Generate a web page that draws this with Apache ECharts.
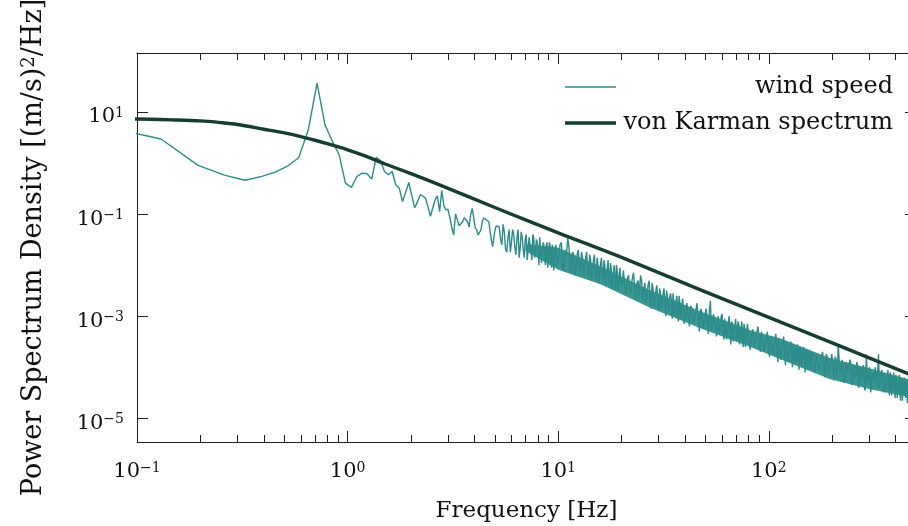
<!DOCTYPE html>
<html><head><meta charset="utf-8">
<script src="https://cdn.jsdelivr.net/npm/echarts@6/dist/echarts.min.js"></script>
<style>html,body{margin:0;padding:0;background:#fff}#c{width:908px;height:526px}</style>
</head><body><div id="c"></div>
<script>
// ---------- data ----------
const windFreqLow = [0.065,0.130,0.195,0.260,0.326,0.391,0.456,0.521,0.586,0.651,0.716,0.781,0.846,0.911,0.977,1.042,1.107,1.172,1.237,1.302,1.367,1.432,1.497,1.562,1.628,1.693,1.758,1.823,1.888,1.953,2.018,2.083,2.148,2.213,2.279,2.344,2.409,2.474,2.539,2.604,2.669,2.734,2.799,2.865,2.930,2.995,3.060,3.125,3.190,3.255,3.320,3.386,3.451,3.516,3.581,3.646,3.711,3.776,3.841,3.906,3.971,4.036,4.102,4.167,4.232,4.297,4.362,4.427,4.492,4.557,4.622,4.687,4.753,4.818,4.883,4.948,5.013,5.078,5.143];
const windPsdLow = [5.6,2.96,0.90,0.58,0.46,0.55,0.675,0.885,1.27,4.5,37,5.6,2.7,1.46,0.405,0.333,0.546,0.637,0.617,0.485,1.30,1.12,0.684,0.59,0.684,0.376,0.324,0.177,0.27,0.417,0.23,0.133,0.174,0.24,0.224,0.206,0.139,0.0906,0.133,0.19,0.229,0.112,0.29,0.146,0.121,0.125,0.085,0.054,0.039,0.101,0.077,0.059,0.056,0.071,0.085,0.093,0.071,0.056,0.098,0.13,0.085,0.054,0.049,0.039,0.036,0.049,0.071,0.085,0.089,0.077,0.081,0.071,0.045,0.031,0.023,0.035,0.049,0.059,0.062];

const windFreqHigh = [
 5.25,5.4,5.55,5.7,5.85,6,6.15,6.3,6.45,6.6,6.75,6.9,7.05,7.2,7.35,7.5,7.65,7.8,7.95,8.1,8.25,8.4,8.55,8.7,8.85,9,9.15,9.3,9.45,9.6,9.75,9.9,
 10.2,10.5,10.8,11.1,11.4,11.7,12,12.3,12.6,12.9,13.2,13.5,13.8,14.1,14.4,14.7,15,15.3,15.6,15.9,16.2,16.5,16.8,17.1,17.4,17.7,18,18.3,18.6,18.9,19.2,19.5,19.8,
 20.4,21,21.6,22.2,22.8,23.4,24,24.6,25.2,25.8,26.4,27,27.6,28.2,28.8,29.4,30,30.6,31.2,31.8,32.4,33,33.6,34.2,34.8,35.4,36,36.6,37.2,37.8,38.4,39,39.6,
 40.8,42,43.2,44.4,45.6,46.8,48,49.2,50.4,51.6,52.8,54,55.2,56.4,57.6,58.8,60,61.2,62.4,63.6,64.8,66,67.2,68.4,69.6,70.8,72,73.2,74.4,75.6,76.8,78,79.2,
 81.6,84,86.4,88.8,91.2,93.6,96,98.4,100.8,103.2,105.6,108,110.4,112.8,115.2,117.6,120,122.4,124.8,127.2,129.6,132,134.4,136.8,139.2,141.6,144,146.4,148.8,151.2,153.6,156,158.4,
 160.8,165.6,170.4,175.2,180,184.8,189.6,194.4,199.2,204,208.8,213.6,218.4,223.2,228,232.8,237.6,242.4,247.2,252,256.8,261.6,266.4,271.2,276,280.8,285.6,290.4,295.2,300,304.8,309.6,314.4,
 320,326,332,338,344,350,356,362,368,374,380,386,392,398,404,410,416,422,428,434,440,446,452,458,464,470,476,482,488,494,500];
const windPsdHigh = [
 5.6e-2,2.5e-2,4.5e-2,1.8e-2,5.0e-2,2.8e-2,4.0e-2,1.6e-2,5.0e-2,2.2e-2,3.5e-2,1.4e-2,4.0e-2,2.0e-2,3.2e-2,1.26e-2,3.5e-2,1.8e-2,2.8e-2,1.0e-2,3.2e-2,1.6e-2,2.5e-2,1.0e-2,2.8e-2,1.4e-2,2.5e-2,8.9e-3,2.2e-2,1.26e-2,2.5e-2,1.0e-2,
 2.5e-2,8.9e-3,2.0e-2,3.5e-2,7.9e-3,1.8e-2,6.3e-3,1.6e-2,1.0e-2,1.8e-2,5.6e-3,1.4e-2,7.9e-3,1.6e-2,5.0e-3,1.26e-2,7.1e-3,1.4e-2,4.5e-3,1.1e-2,6.3e-3,1.26e-2,4.0e-3,8.9e-3,5.6e-3,1.1e-2,3.5e-3,7.9e-3,5.0e-3,1.0e-2,3.2e-3,7.1e-3,4.5e-3,
 7.9e-3,2.8e-3,6.3e-3,3.5e-3,7.1e-3,2.2e-3,5.0e-3,6.3e-3,2.0e-3,4.5e-3,2.5e-3,5.0e-3,1.4e-3,3.5e-3,2.0e-3,4.0e-3,1.26e-3,2.8e-3,1.8e-3,3.5e-3,1.0e-3,2.5e-3,1.4e-3,2.8e-3,8.9e-4,2.0e-3,1.26e-3,2.5e-3,7.9e-4,1.8e-3,1.1e-3,2.2e-3,7.1e-4,
 1.8e-3,6.3e-4,1.4e-3,8.9e-4,1.8e-3,5.0e-4,1.26e-3,7.1e-4,1.4e-3,4.5e-4,2.0e-3,6.3e-4,1.1e-3,4.0e-4,1.0e-3,5.6e-4,1.1e-3,3.5e-4,8.9e-4,5.0e-4,1.0e-3,2.8e-4,7.1e-4,4.5e-4,8.9e-4,3.2e-4,7.1e-4,4.0e-4,7.9e-4,2.5e-4,6.3e-4,3.5e-4,7.1e-4,
 2.2e-4,5.6e-4,3.2e-4,6.3e-4,2.0e-4,5.0e-4,2.8e-4,5.0e-4,1.6e-4,4.0e-4,2.5e-4,4.5e-4,1.26e-4,3.5e-4,2.0e-4,4.0e-4,1.1e-4,2.8e-4,1.8e-4,3.2e-4,1.0e-4,2.5e-4,1.4e-4,2.8e-4,8.9e-5,2.2e-4,1.26e-4,2.5e-4,7.9e-5,2.0e-4,1.1e-4,2.2e-4,8.9e-5,
 2.0e-4,7.9e-5,1.8e-4,1.1e-4,2.0e-4,6.3e-5,1.6e-4,8.9e-5,1.8e-4,5.6e-5,1.4e-4,2.8e-4,7.9e-5,1.4e-4,5.0e-5,1.26e-4,7.9e-5,1.4e-4,4.5e-5,1.1e-4,6.3e-5,1.26e-4,4.0e-5,1.0e-4,5.6e-5,1.1e-4,3.5e-5,1.8e-4,5.0e-5,1.0e-4,3.2e-5,7.9e-5,5.0e-5,
 1.0e-4,4.5e-5,1.8e-4,5.0e-5,8.9e-5,3.2e-5,7.9e-5,4.5e-5,8.9e-5,2.8e-5,7.1e-5,4.0e-5,7.9e-5,2.5e-5,6.3e-5,3.5e-5,7.1e-5,2.2e-5,5.6e-5,3.2e-5,6.3e-5,2.5e-5,5.0e-5,2.8e-5,6.3e-5,2.2e-5,5.0e-5,3.2e-5,5.6e-5,2.5e-5,4.5e-5];

// samples lying between the ones above
const windFreqMid = [
 5.325,5.475,5.625,5.775,5.925,6.075,6.225,6.375,6.525,6.675,6.825,6.975,7.125,7.275,7.425,7.575,7.725,7.875,8.025,8.175,8.325,8.475,8.625,8.775,8.925,9.075,9.225,9.375,9.525,9.675,9.825,
 10.05,10.35,10.65,10.95,11.25,11.55,11.85,12.15,12.45,12.75,13.05,13.35,13.65,13.95,14.25,14.55,14.85,15.15,15.45,15.75,16.05,16.35,16.65,16.95,17.25,17.55,17.85,18.15,18.45,18.75,19.05,19.35,19.65,20.1,
 20.7,21.3,21.9,22.5,23.1,23.7,24.3,24.9,25.5,26.1,26.7,27.3,27.9,28.5,29.1,29.7,30.3,30.9,31.5,32.1,32.7,33.3,33.9,34.5,35.1,35.7,36.3,36.9,37.5,38.1,38.7,39.3,40.2,
 41.4,42.6,43.8,45,46.2,47.4,48.6,49.8,51,52.2,53.4,54.6,55.8,57,58.2,59.4,60.6,61.8,63,64.2,65.4,66.6,67.8,69,70.2,71.4,72.6,73.8,75,76.2,77.4,78.6,80.4,
 82.8,85.2,87.6,90,92.4,94.8,97.2,99.6,102,104.4,106.8,109.2,111.6,114,116.4,118.8,121.2,123.6,126,128.4,130.8,133.2,135.6,138,140.4,142.8,145.2,147.6,150,152.4,154.8,157.2,159.6,
 163.2,168,172.8,177.6,182.4,187.2,192,196.8,201.6,206.4,211.2,216,220.8,225.6,230.4,235.2,240,244.8,249.6,254.4,259.2,264,268.8,273.6,278.4,283.2,288,292.8,297.6,302.4,307.2,312,317.2,
 323,329,335,341,347,353,359,365,371,377,383,389,395,401,407,413,419,425,431,437,443,449,455,461,467,473,479,485,491,497];
const windPsdMid = [
 3.2e-2,6.3e-2,2.0e-2,3.5e-2,1.8e-2,5.0e-2,2.2e-2,3.5e-2,1.4e-2,4.5e-2,2.0e-2,3.2e-2,1.26e-2,3.5e-2,1.8e-2,4.0e-2,1.4e-2,3.2e-2,2.0e-2,3.5e-2,1.1e-2,2.8e-2,1.4e-2,2.5e-2,8.9e-3,2.8e-2,1.4e-2,2.5e-2,7.9e-3,2.2e-2,1.4e-2,
 1.4e-2,2.8e-2,7.9e-3,1.6e-2,2.2e-2,7.1e-3,1.6e-2,8.9e-3,2.0e-2,6.3e-3,1.4e-2,8.9e-3,1.8e-2,5.6e-3,1.26e-2,7.9e-3,1.6e-2,5.0e-3,1.0e-2,7.1e-3,1.4e-2,5.0e-3,1.0e-2,6.3e-3,1.26e-2,4.0e-3,8.9e-3,5.0e-3,1.0e-2,3.5e-3,7.9e-3,4.5e-3,8.9e-3,4.0e-3,
 4.0e-3,5.6e-3,2.8e-3,5.6e-3,3.2e-3,4.5e-3,2.5e-3,5.0e-3,3.2e-3,1.8e-3,4.0e-3,2.5e-3,4.5e-3,1.6e-3,3.2e-3,2.2e-3,3.5e-3,1.4e-3,2.8e-3,2.0e-3,3.2e-3,1.26e-3,2.5e-3,1.8e-3,2.8e-3,1.0e-3,2.0e-3,1.4e-3,2.5e-3,8.9e-4,1.8e-3,1.26e-3,8.9e-4,
 1.1e-3,1.6e-3,7.1e-4,1.26e-3,8.9e-4,1.4e-3,5.6e-4,1.1e-3,7.9e-4,1.26e-3,5.0e-4,1.1e-3,6.3e-4,8.9e-4,4.5e-4,1.0e-3,6.3e-4,8.9e-4,3.5e-4,7.1e-4,5.0e-4,7.9e-4,3.2e-4,6.3e-4,4.5e-4,7.9e-4,2.8e-4,5.6e-4,4.0e-4,7.1e-4,2.5e-4,5.0e-4,3.5e-4,
 4.0e-4,2.5e-4,4.5e-4,3.2e-4,5.0e-4,2.0e-4,3.5e-4,2.5e-4,4.0e-4,1.8e-4,3.2e-4,2.2e-4,3.5e-4,1.4e-4,2.8e-4,2.0e-4,3.2e-4,1.26e-4,2.5e-4,1.8e-4,2.8e-4,1.1e-4,2.2e-4,1.6e-4,2.5e-4,1.0e-4,2.0e-4,1.4e-4,2.2e-4,8.9e-5,1.8e-4,1.26e-4,1.8e-4,
 1.26e-4,1.8e-4,8.9e-5,1.6e-4,1.1e-4,1.8e-4,7.1e-5,1.4e-4,1.0e-4,1.6e-4,6.3e-5,1.26e-4,8.9e-5,1.4e-4,5.6e-5,1.1e-4,7.9e-5,1.26e-4,5.0e-5,1.0e-4,7.1e-5,1.1e-4,4.5e-5,8.9e-5,6.3e-5,1.0e-4,4.0e-5,7.9e-5,5.6e-5,8.9e-5,3.5e-5,7.1e-5,5.0e-5,
 5.6e-5,8.9e-5,4.0e-5,7.1e-5,5.0e-5,7.9e-5,3.2e-5,6.3e-5,4.5e-5,7.9e-5,2.8e-5,5.6e-5,4.0e-5,7.1e-5,2.5e-5,5.0e-5,3.5e-5,6.3e-5,2.2e-5,5.0e-5,3.5e-5,5.6e-5,2.0e-5,4.5e-5,3.2e-5,5.6e-5,2.2e-5,4.0e-5,2.8e-5,5.0e-5];

// the densely over-plotted core of the wind-speed spectrum (where the trace fills solid)
const coreFreq = [7, 10, 16, 27, 47, 82, 113, 196, 303, 445, 500];
const coreLow  = [1.9e-2, 8.1e-3, 4.2e-3, 1.5e-3, 5.9e-4, 2.5e-4, 1.45e-4, 5.8e-5, 3.7e-5, 2.7e-5, 2.5e-5];
const coreHigh = [2.6e-2, 2.2e-2, 9.3e-3, 3.3e-3, 1.25e-3, 5.3e-4, 3.7e-4, 1.5e-4, 9.5e-5, 6.0e-5, 5.5e-5];

const karmanFreq = [0.05,0.1,0.15,0.2,0.25,0.3,0.4,0.5,0.6,0.7,0.8,1.0,1.2,1.5,2,3,5,7,10,20,50,100,200,500];
const karmanPsd  = [7.4,7.3,7.0,6.7,6.2,5.7,4.6,3.9,3.3,2.8,2.4,1.82,1.4,0.97,0.62,0.32,0.135,0.077,0.043,0.0142,0.0030,9.5e-4,3.0e-4,6.5e-5];

const seriesNames = ['wind speed', 'von Karman spectrum'];
const xMajorTicks = [0.1, 1, 10, 100];
const xMinorTicks = [0.2,0.3,0.4,0.5,0.6,0.7,0.8,0.9,2,3,4,5,6,7,8,9,20,30,40,50,60,70,80,90,200,300,400,500];
const yMajorTicks = [1e-5, 1e-3, 1e-1, 10];
const xRange = [0.1, 500];
const yRange = [3.43e-6, 143.5];
const xTitle = 'Frequency [Hz]';
const yTitle = 'Power Spectrum Density [(m/s){sup|2}/Hz]';

// ---------- chart ----------
const FONT = 'DejaVu Serif';
const TXT = '#111';
const AX = '#1e1e1e';
const TEAL = '#2b8c8a';
const CORE = '#3a9593';
const DARK = '#153e31';
const lg = Math.log10;

const pairs = (fs, vs) => fs.map((f, i) => [f, vs[i]]);
const windData = pairs(windFreqLow, windPsdLow)
  .concat(pairs(windFreqHigh, windPsdHigh))
  .concat(pairs(windFreqMid, windPsdMid))
  .sort((a, b) => a[0] - b[0]);

const powLabel = v => {
  const e = Math.round(v);
  return '10{sup|' + (e < 0 ? '\u2212' + (-e) : String(e)) + '}';
};
const supRich = { sup: { fontFamily: FONT, fontSize: 14, color: TXT, verticalAlign: 'top', lineHeight: 14 } };
const axLine = { show: true, onZero: false, lineStyle: { color: AX, width: 1 } };
const noLine = { show: false, onZero: false };

function tickAxis(dim, position, ticks, len, withLabels, line, extra) {
  const r = dim === 'x' ? xRange : yRange;
  const ax = {
    type: 'value', position: position,
    min: lg(r[0]), max: lg(r[1]),
    axisLine: line,
    axisTick: { show: true, inside: true, length: len, customValues: ticks.map(lg), lineStyle: { color: AX, width: 1 } },
    axisLabel: withLabels ? {
      show: true, customValues: ticks.map(lg), formatter: powLabel,
      margin: dim === 'x' ? 19 : 13, padding: dim === 'x' ? 0 : [10, 0, 0, 0],
      fontFamily: FONT, fontSize: 21, color: TXT, rich: supRich
    } : { show: false },
    splitLine: { show: false }, minorTick: { show: false }, axisPointer: { show: false }, silent: true
  };
  return Object.assign(ax, extra || {});
}

function legendFor(name, top, lineH) {
  return {
    data: [{ name: name, icon: 'rect' }], left: 565, top: top, padding: 0,
    itemWidth: 51, itemHeight: lineH, selectedMode: false,
    formatter: n => '{r|' + n + '}',
    textStyle: { fontFamily: FONT, fontSize: 24, color: TXT,
      rich: { r: { fontFamily: FONT, fontSize: 24, color: TXT, width: 272, align: 'right' } } }
  };
}

const chart = echarts.init(document.getElementById('c'), null, { renderer: 'canvas' });
chart.setOption({
  animation: false,
  backgroundColor: '#fff',
  grid: { left: 137, top: 53, right: -8, bottom: 84, containLabel: false, outerBoundsMode: 'none' },
  xAxis: [
    { type: 'log', min: xRange[0], max: xRange[1], show: false, logBase: 10 },
    tickAxis('x', 'bottom', xMajorTicks, 11, true, axLine, {
      name: xTitle, nameLocation: 'middle', nameGap: 58,
      nameTextStyle: { fontFamily: FONT, fontSize: 23, color: TXT }
    }),
    tickAxis('x', 'bottom', xMinorTicks, 7, false, noLine),
    tickAxis('x', 'top', xMajorTicks, 11, false, axLine),
    tickAxis('x', 'top', xMinorTicks, 7, false, noLine)
  ],
  yAxis: [
    { type: 'log', min: yRange[0], max: yRange[1], show: false, logBase: 10 },
    tickAxis('y', 'left', yMajorTicks, 11, true, axLine, {
      name: yTitle, nameLocation: 'middle', nameGap: 90, nameRotate: 90,
      nameTextStyle: { fontFamily: FONT, fontSize: 27, color: TXT,
        rich: { sup: { fontFamily: FONT, fontSize: 18, color: TXT, verticalAlign: 'top', lineHeight: 18 } } }
    }),
    tickAxis('y', 'right', yMajorTicks, 11, false, axLine)
  ],
  legend: [ legendFor(seriesNames[0], 75, 1.5), legendFor(seriesNames[1], 111, 3.4) ],
  series: [
    { name: 'core', type: 'custom', coordinateSystem: 'cartesian2d', xAxisIndex: 0, yAxisIndex: 0,
      data: coreFreq.map((f, i) => [f, coreLow[i], coreHigh[i]]),
      encode: { x: 0, y: [1, 2] }, clip: true, silent: true, z: 1,
      renderItem: (params, api) => {
        if (params.dataIndex !== 0) return null;
        const top = coreFreq.map((f, i) => api.coord([f, coreHigh[i]]));
        const bot = coreFreq.map((f, i) => api.coord([f, coreLow[i]])).reverse();
        return { type: 'polygon', shape: { points: top.concat(bot) }, style: { fill: CORE } };
      } },
    { name: seriesNames[0], type: 'line', xAxisIndex: 0, yAxisIndex: 0,
      data: windData,
      symbol: 'none', showSymbol: false, clip: true,
      lineStyle: { color: TEAL, width: 1.4 }, itemStyle: { color: TEAL }, z: 2 },
    { name: seriesNames[1], type: 'line', xAxisIndex: 0, yAxisIndex: 0,
      data: pairs(karmanFreq, karmanPsd),
      symbol: 'none', showSymbol: false, smooth: 0.3, clip: true,
      lineStyle: { color: DARK, width: 3.4 }, itemStyle: { color: DARK }, z: 3 }
  ]
});
</script>
</body></html>
